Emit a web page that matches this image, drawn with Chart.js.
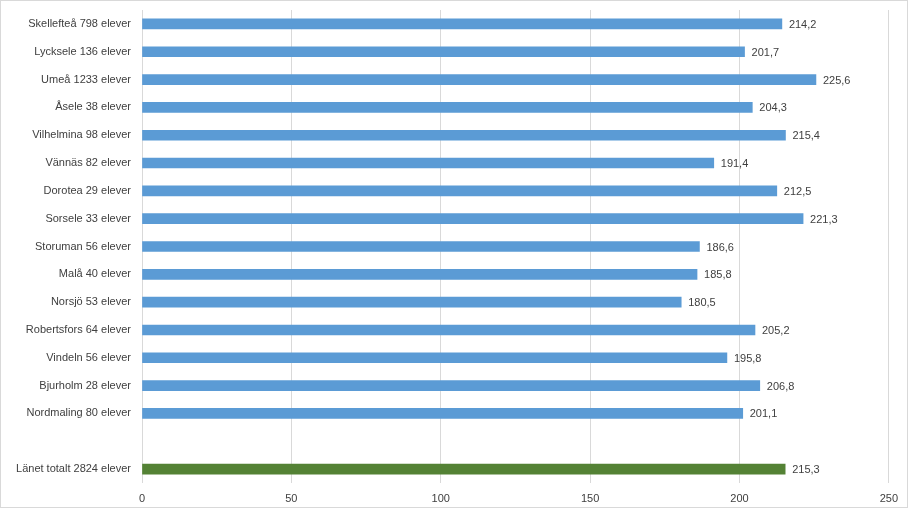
<!DOCTYPE html>
<html>
<head>
<meta charset="utf-8">
<script src="https://cdn.jsdelivr.net/npm/chart.js@4.4.0/dist/chart.umd.min.js"></script>
<style>
  html, body { margin: 0; padding: 0; background: #fff; }
  #wrap { position: relative; width: 906px; height: 506px; border: 1px solid #d9d9d9; }
</style>
</head>
<body>
<div id="wrap"><canvas id="myChart"></canvas></div>
<script>
// kommuner + antal elever
let labels = [
  'Skellefteå 798 elever', 'Lycksele 136 elever', 'Umeå 1233 elever', 'Åsele 38 elever',
  'Vilhelmina 98 elever', 'Vännäs 82 elever', 'Dorotea 29 elever', 'Sorsele 33 elever',
  'Storuman 56 elever', 'Malå 40 elever', 'Norsjö 53 elever', 'Robertsfors 64 elever',
  'Vindeln 56 elever', 'Bjurholm 28 elever', 'Nordmaling 80 elever', '',
  'Länet totalt 2824 elever'
];
let values = [214.2, 201.7, 225.6, 204.3, 215.4, 191.4, 212.5, 221.3, 186.6, 185.8, 180.5, 205.2, 195.8, 206.8, 201.1, null, 215.3];
let xTicks = [0, 50, 100, 150, 200, 250];

let barColors = values.map((v, i) => i === values.length - 1 ? '#548235' : '#5b9bd5');

// labels at end of bars
const valueLabels = {
  id: 'valueLabels',
  afterDatasetsDraw(chart) {
    let ctx = chart.ctx;
    let meta = chart.getDatasetMeta(0);
    ctx.save();
    ctx.font = '11px "Liberation Sans", Arial, sans-serif';
    ctx.fillStyle = '#404040';
    ctx.textBaseline = 'middle';
    meta.data.forEach((bar, i) => {
      if (values[i] == null) return;
      ctx.fillText(values[i].toFixed(1).replace('.', ','), bar.x + 7, bar.y + 1);
    });
    ctx.restore();
  }
};

const data = {
  labels: labels,
  datasets: [{
    data: values,
    backgroundColor: barColors,
    barThickness: 10
  }]
};

const config = {
  type: 'bar',
  data: data,
  plugins: [valueLabels],
  options: {
    indexAxis: 'y',
    responsive: true,
    maintainAspectRatio: false,
    animation: false,
    layout: { padding: { top: 9, right: 17, left: 0, bottom: 0 } },
    plugins: { legend: { display: false }, tooltip: { enabled: false } },
    scales: {
      x: {
        min: 0,
        max: 250,
        afterBuildTicks(scale) { scale.ticks = xTicks.map(v => ({ value: v })); },
        afterFit(scale) { scale.height = 24; },
        grid: { color: '#d9d9d9', drawTicks: false },
        border: { display: false },
        ticks: {
          padding: 9,
          color: '#404040',
          font: { family: '"Liberation Sans", Arial, sans-serif', size: 11 }
        }
      },
      y: {
        afterFit(scale) {
          scale.width = 141;
          scale.paddingTop = 0;
          scale.paddingBottom = 0;
        },
        grid: { display: false, drawTicks: false },
        border: { display: false },
        ticks: {
          padding: 11,
          color: '#404040',
          autoSkip: false,
          font: { family: '"Liberation Sans", Arial, sans-serif', size: 11 }
        }
      }
    }
  }
};

let chart = new Chart(document.getElementById('myChart'), config);
</script>
</body>
</html>
